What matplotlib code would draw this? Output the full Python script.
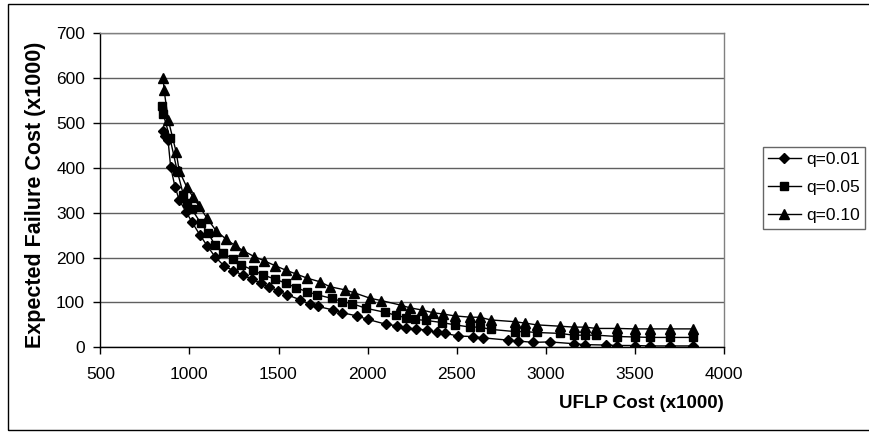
import matplotlib
matplotlib.use("Agg")
import matplotlib.pyplot as plt
from matplotlib.patches import Rectangle

plt.rcParams['font.family'] = ['Liberation Sans', 'DejaVu Sans']

# ---- data (UFLP cost x1000, expected failure cost x1000) ----
q01_x = [853, 863, 880, 895, 919, 943, 981, 1013, 1059, 1100, 1143, 1195, 1246, 1299, 1349, 1400,
         1448, 1498, 1549, 1620, 1676, 1723, 1807, 1859, 1938, 2003, 2106, 2166, 2218, 2271, 2331,
         2387, 2437, 2508, 2592, 2648, 2788, 2844, 2928, 3022, 3157, 3218, 3336, 3402, 3499, 3583,
         3695, 3826]
q01_y = [482, 471, 462, 401, 358, 328, 302, 280, 250, 226, 202, 181, 171, 161, 152, 143,
         134, 126, 117, 106, 96, 91, 83, 77, 70, 62, 51, 48, 44, 40, 39,
         33, 31, 25, 24, 21, 16, 14, 11, 12, 8, 6, 5, 4, 4, 3,
         3, 3]

q05_x = [848, 853, 891, 932, 966, 988, 1013, 1063, 1106, 1143, 1190, 1243, 1289, 1355, 1414, 1480,
         1540, 1598, 1658, 1717, 1798, 1857, 1915, 1990, 2097, 2162, 2215, 2265, 2325, 2420, 2489,
         2577, 2630, 2690, 2826, 2882, 2948, 3078, 3157, 3218, 3284, 3402, 3499, 3583, 3695, 3826]
q05_y = [537, 520, 466, 392, 340, 322, 308, 277, 254, 228, 211, 196, 184, 172, 161, 152,
         143, 133, 124, 117, 109, 102, 97, 87, 78, 71, 66, 62, 60, 55, 50,
         45, 45, 40, 35, 35, 33, 31, 27, 27, 27, 24, 23, 22, 22, 22]

q10_x = [853, 858, 881, 925, 943, 985, 1020, 1055, 1100, 1149, 1205, 1255, 1302, 1364, 1418, 1480,
         1540, 1601, 1661, 1732, 1788, 1872, 1921, 2016, 2078, 2185, 2237, 2306, 2368, 2424, 2489,
         2577, 2630, 2690, 2826, 2882, 2948, 3078, 3157, 3218, 3284, 3402, 3499, 3583, 3695, 3826]
q10_y = [600, 573, 507, 436, 393, 357, 335, 314, 287, 260, 241, 227, 215, 202, 193, 182,
         172, 163, 154, 146, 135, 128, 122, 109, 104, 94, 88, 83, 77, 74, 70,
         67, 67, 61, 57, 54, 50, 47, 45, 45, 42, 42, 41, 41, 41, 41]

series_labels = ['q=0.01', 'q=0.05', 'q=0.10']
x_ticks = [500, 1000, 1500, 2000, 2500, 3000, 3500, 4000]
y_ticks = [0, 100, 200, 300, 400, 500, 600, 700]

fig = plt.figure(figsize=(8.69, 4.32), dpi=100)
ax = fig.add_axes([100.3 / 869, 1 - 347.3 / 432, (724 - 100.3) / 869, (347.3 - 33) / 432])

ax.plot(q01_x, q01_y, color='black', lw=1, marker='D', ms=5.5, mfc='black', mec='black',
        label=series_labels[0], zorder=3)
ax.plot(q05_x, q05_y, color='black', lw=1, marker='s', ms=5.5, mfc='black', mec='black',
        label=series_labels[1], zorder=3)
ax.plot(q10_x, q10_y, color='black', lw=1, marker='^', ms=6.5, mfc='black', mec='black',
        label=series_labels[2], zorder=3)

ax.set_xlim(500, 4000)
ax.set_ylim(0, 700)
ax.set_xticks(x_ticks)
ax.set_yticks(y_ticks)
ax.yaxis.grid(True, color='#606060', lw=1)
ax.set_axisbelow(True)

for s in ['top', 'right']:
    ax.spines[s].set_color('#808080')
    ax.spines[s].set_linewidth(1)
for s in ['left', 'bottom']:
    ax.spines[s].set_color('black')
    ax.spines[s].set_linewidth(1)

ax.tick_params(axis='both', direction='out', length=5, width=1, color='black', labelsize=12.5)
ax.tick_params(axis='y', pad=6)
ax.tick_params(axis='x', pad=9)

fig.text(724 / 869, 1 - 404 / 432, 'UFLP Cost (x1000)', fontsize=13.5, fontweight='bold',
         ha='right', va='center')
fig.text(36 / 869, 1 - 195 / 432, 'Expected Failure Cost (x1000)', fontsize=15.5,
         fontweight='bold', rotation=90, ha='center', va='center')

leg = fig.legend(loc='upper left', bbox_to_anchor=(762.7 / 869, 1 - 146.7 / 432),
                 frameon=True, fancybox=False, edgecolor='black', fontsize=12.5,
                 handlelength=1.9, handletextpad=0.3, borderpad=0.3, labelspacing=0.75,
                 borderaxespad=0, markerscale=1.0)
leg.get_frame().set_linewidth(1)
leg.get_frame().set_edgecolor('#404040')

fig.patches.append(Rectangle((8 / 869, 2 / 432), 2.0, 426 / 432, transform=fig.transFigure,
                             fill=False, edgecolor='black', lw=1))

fig.savefig('out.png', dpi=100)
